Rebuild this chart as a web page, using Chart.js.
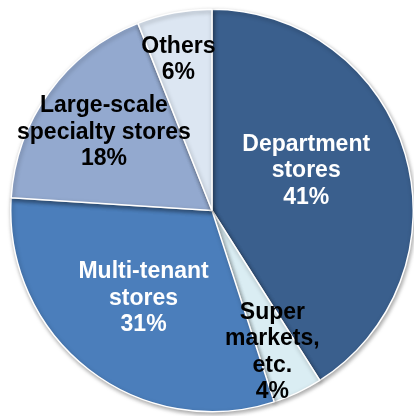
<!DOCTYPE html>
<html>
<head>
<meta charset="utf-8">
<script src="https://cdn.jsdelivr.net/npm/chart.js@4/dist/chart.umd.min.js"></script>
<style>
  html, body { margin: 0; padding: 0; background: #fff; }
  #wrap { width: 414px; height: 416px; }
</style>
</head>
<body>
<div id="wrap"><canvas id="pie" width="414" height="416"></canvas></div>
<script>
// share by store type, clockwise from the top
var categories = [
  ["Department", "stores"],
  ["Super", "markets,", "etc."],
  ["Multi-tenant", "stores"],
  ["Large-scale", "specialty stores"],
  ["Others"]
];
var shares = [41, 4, 31, 18, 6];
var sliceColors = ["#3A5F8D", "#DAEDF3", "#4B7EBB", "#93A9CF", "#DCE6F2"];
var textColors = ["#fff", "#000", "#fff", "#000", "#000"];
// label block centre relative to pie centre, in units of the radius
var labelOffset = [[0.468, -0.197], [0.300, 0.704], [-0.340, 0.438], [-0.537, -0.389], [-0.167, -0.749]];

var shadowPlugin = {
  id: "pieShadow",
  beforeDatasetsDraw: function (chart) {
    var ctx = chart.ctx;
    ctx.save();
    ctx.shadowColor = "rgba(0,0,0,0.35)";
    ctx.shadowBlur = 4;
    ctx.shadowOffsetX = 1;
    ctx.shadowOffsetY = 2;
  },
  afterDatasetsDraw: function (chart) {
    chart.ctx.restore();
  }
};

var labelPlugin = {
  id: "sliceLabels",
  afterDatasetsDraw: function (chart) {
    var ctx = chart.ctx;
    var arcs = chart.getDatasetMeta(0).data;
    ctx.save();
    ctx.font = "bold 23px 'Liberation Sans', Arial, sans-serif";
    ctx.textAlign = "center";
    ctx.textBaseline = "middle";
    var lineH = 26.5;
    arcs.forEach(function (arc, i) {
      var p = arc.getProps(["x", "y", "outerRadius"], true);
      var cx = p.x + labelOffset[i][0] * p.outerRadius;
      var cy = p.y + labelOffset[i][1] * p.outerRadius;
      var lines = categories[i].concat([shares[i] + "%"]);
      var top = cy - (lines.length - 1) * lineH / 2;
      ctx.fillStyle = textColors[i];
      lines.forEach(function (t, k) {
        ctx.fillText(t, cx, top + k * lineH);
      });
    });
    ctx.restore();
  }
};

new Chart(document.getElementById("pie"), {
  type: "pie",
  data: {
    labels: categories.map(function (c) { return c.join(" "); }),
    datasets: [{
      data: shares,
      backgroundColor: sliceColors,
      borderColor: "#fff",
      borderWidth: 1.5
    }]
  },
  options: {
    responsive: false,
    animation: false,
    devicePixelRatio: 1,
    layout: { padding: { left: 10, right: 0, top: 7, bottom: 2 } },
    plugins: {
      legend: { display: false },
      tooltip: { enabled: false }
    }
  },
  plugins: [shadowPlugin, labelPlugin]
});
</script>
</body>
</html>
